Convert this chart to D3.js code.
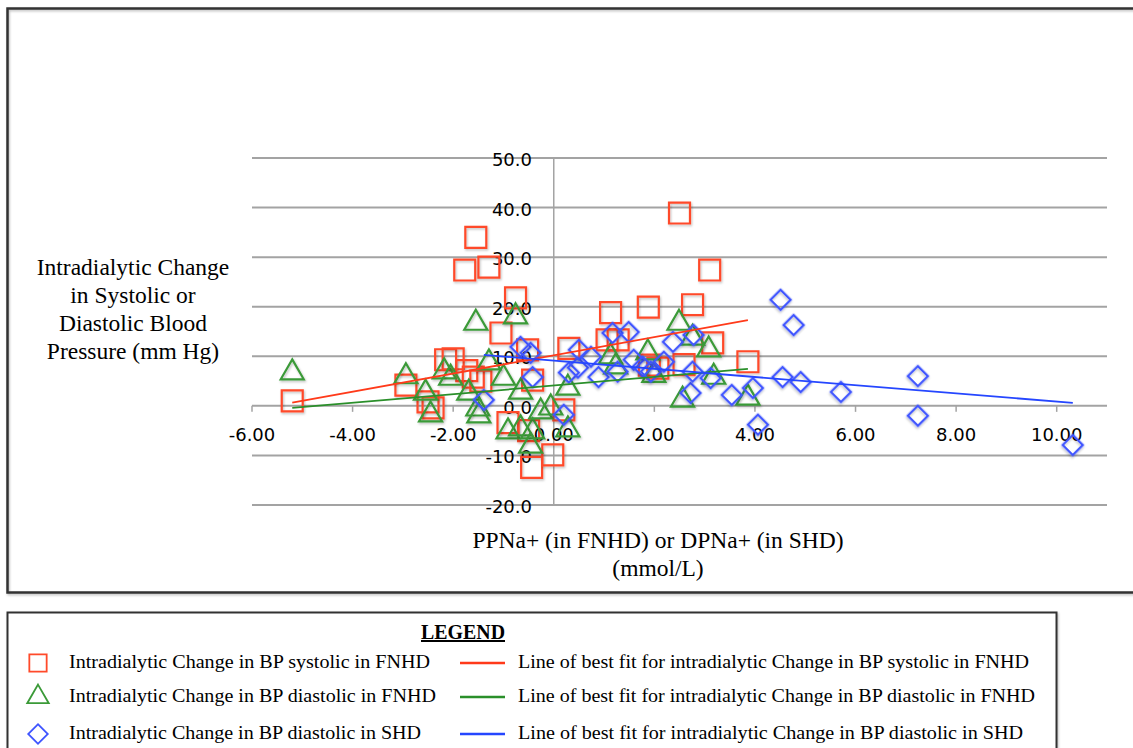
<!DOCTYPE html>
<html>
<head>
<meta charset="utf-8">
<script src="https://cdn.jsdelivr.net/npm/d3@7"></script>
<style>
  body { margin: 0; background: #fff; }
  svg { display: block; }
</style>
</head>
<body>
<div id="chart"></div>
<script>
// tick values
const xTicks = [-6, -4, -2, 0, 2, 4, 6, 8, 10];
const yTicks = [-20, -10, 0, 10, 20, 30, 40, 50];

// intradialytic change in BP systolic in FNHD (squares)
const sysFnX = [-5.2, -2.94, -2.5, -2.4, -2.15, -2.0, -1.73, -1.6, -1.45, -1.77, -1.55, -1.29,
  -0.76, -1.05, -0.52, -0.42, -0.91, -0.5, -0.44, -0.02, 0.2, 0.3, 1.13, 1.06, 1.28, 1.88,
  1.9, 2.07, 2.5, 3.1, 2.76, 3.16, 2.59, 3.86];
const sysFnY = [1.0, 4.2, 0.8, -0.4, 9.3, 9.5, 7.1, 5.8, 5.0, 27.4, 34.0, 28.0,
  21.8, 14.7, 11.3, 5.2, -3.4, -5.0, -12.4, -9.9, -0.8, 11.6, 18.8, 13.3, 13.3, 19.9,
  8.2, 7.6, 38.9, 27.4, 20.4, 12.7, 8.3, 8.9];

// intradialytic change in BP diastolic in FNHD (triangles)
const diaFnX = [-5.2, -2.94, -2.55, -2.45, -2.18, -2.05, -1.55, -0.76, -1.69, -1.51, -1.49,
  -1.29, -1.0, -0.66, -0.91, -0.66, -0.42, -0.46, -0.26, -0.06, 0.28, 0.28, 1.13, 1.23,
  1.87, 1.99, 2.49, 2.76, 3.08, 3.18, 2.56, 3.86];
const diaFnY = [6.7, 5.9, 2.6, -1.8, 6.9, 5.6, 16.7, 18.0, 2.6, -0.6, -2.0,
  8.7, 5.6, 2.8, -5.2, -4.6, -5.2, -8.1, -1.2, -0.4, 3.6, -4.8, 9.9, 7.9,
  10.7, 6.2, 16.7, 13.7, 11.3, 5.8, 1.2, 1.6];

// intradialytic change in BP diastolic in SHD (diamonds)
const diaShX = [-1.39, -0.66, -0.46, -0.42, 0.2, 0.3, 0.48, 0.5, 0.74, 0.89, 1.17, 1.27,
  1.49, 1.59, 1.77, 1.93, 2.19, 2.37, 2.72, 2.76, 2.78, 3.12, 3.54, 3.96, 4.06, 4.51,
  4.55, 4.77, 4.91, 5.71, 7.24, 7.24, 10.32];
const diaShY = [1.2, 11.9, 10.7, 5.8, -1.8, 6.7, 7.7, 11.3, 9.9, 5.8, 14.7, 6.9,
  14.9, 9.3, 7.9, 6.9, 8.9, 12.9, 2.6, 6.9, 14.3, 5.6, 2.2, 3.6, -3.8, 21.4,
  5.8, 16.3, 4.8, 2.8, 6.0, -2.0, -7.9];

// lines of best fit, [intercept, slope]
const fitSysFn = [10.2, 1.84];
const fitDiaFn = [4.1, 0.87];
const fitDiaSh = [9.13, -0.827];

const legendMarkers = [
  'Intradialytic Change in BP systolic in FNHD',
  'Intradialytic Change in BP diastolic in FNHD',
  'Intradialytic Change in BP diastolic in SHD'
];
const legendLines = [
  'Line of best fit for intradialytic Change in BP systolic in FNHD',
  'Line of best fit for intradialytic Change in BP diastolic in FNHD',
  'Line of best fit for intradialytic Change in BP diastolic in SHD'
];

const W = 1133, H = 748;
const red = '#ff4a2a', green = '#3b9a38', blue = '#3f55ff';
const redLine = '#ff3a1a', greenLine = '#2a8f2a', blueLine = '#2546ff';

const svg = d3.select('#chart').append('svg')
  .attr('width', W)
  .attr('height', H)
  .style('font-family', '"DejaVu Sans", Verdana, sans-serif');

const defs = svg.append('defs');
defs.append('filter').attr('id', 'shadow')
  .attr('x', '-30%').attr('y', '-30%').attr('width', '160%').attr('height', '160%')
  .append('feDropShadow')
  .attr('dx', 1).attr('dy', 1.5).attr('stdDeviation', 1)
  .attr('flood-color', '#000').attr('flood-opacity', 0.25);

// outer chart frame
svg.append('rect')
  .attr('x', 7.5).attr('y', 8.5)
  .attr('width', W + 10).attr('height', 584)
  .attr('fill', 'none').attr('stroke', '#333').attr('stroke-width', 2.5)
  .attr('filter', 'url(#shadow)');

const x = d3.scaleLinear().domain([-6, 11]).range([252, 1107]);
const y = d3.scaleLinear().domain([-20, 50]).range([505, 158]);

// horizontal gridlines
svg.append('g').selectAll('line')
  .data(yTicks)
  .enter().append('line')
  .attr('x1', x(-6)).attr('x2', x(11))
  .attr('y1', d => y(d)).attr('y2', d => y(d))
  .attr('stroke', '#a3a3a3').attr('stroke-width', 2);

// vertical axis
svg.append('line')
  .attr('x1', x(0)).attr('x2', x(0))
  .attr('y1', y(50)).attr('y2', y(-20))
  .attr('stroke', '#a3a3a3').attr('stroke-width', 1.5);

// x ticks on the zero line
svg.append('g').selectAll('line')
  .data(xTicks)
  .enter().append('line')
  .attr('x1', d => x(d)).attr('x2', d => x(d))
  .attr('y1', y(0)).attr('y2', y(0) + 6)
  .attr('stroke', '#a3a3a3').attr('stroke-width', 1.5);

const fmtY = d => d3.format('.1f')(d).replace('\u2212', '-');
const fmtX = d => d3.format('.2f')(d).replace('\u2212', '-');

// y tick labels
svg.append('g').selectAll('text')
  .data(yTicks)
  .enter().append('text')
  .attr('x', 532)
  .attr('y', d => y(d) + 3)
  .attr('text-anchor', 'end')
  .attr('dominant-baseline', 'middle')
  .attr('font-size', 18)
  .attr('fill', '#000')
  .text(fmtY);

// x tick labels
svg.append('g').selectAll('text')
  .data(xTicks)
  .enter().append('text')
  .attr('x', d => x(d))
  .attr('y', 436)
  .attr('text-anchor', 'middle')
  .attr('dominant-baseline', 'middle')
  .attr('font-size', 18)
  .attr('fill', '#000')
  .text(fmtX);

// markers
const sq = d3.symbol().type(d3.symbolSquare).size(440);
const tri = d3.symbol().type(d3.symbolTriangle).size(230);
const dia = d3.symbol().type(d3.symbolSquare).size(205);

function drawSeries(xs, ys, path, color, rot) {
  svg.append('g').selectAll('path')
    .data(xs.map((v, i) => [v, ys[i]]))
    .enter().append('path')
    .attr('d', path())
    .attr('transform', d => 'translate(' + x(d[0]) + ',' + y(d[1]) + ') rotate(' + rot + ')')
    .attr('fill', 'none')
    .attr('stroke', color)
    .attr('stroke-width', 2.2)
    .attr('filter', 'url(#shadow)');
}
drawSeries(sysFnX, sysFnY, sq, red, 0);
drawSeries(diaFnX, diaFnY, tri, green, 0);
drawSeries(diaShX, diaShY, dia, blue, 45);

// lines of best fit over the x range of each series
function drawFit(xs, fit, color) {
  const ext = d3.extent(xs);
  svg.append('line')
    .attr('x1', x(ext[0])).attr('y1', y(fit[0] + fit[1] * ext[0]))
    .attr('x2', x(ext[1])).attr('y2', y(fit[0] + fit[1] * ext[1]))
    .attr('stroke', color).attr('stroke-width', 1.8);
}
drawFit(sysFnX, fitSysFn, redLine);
drawFit(diaFnX, fitDiaFn, greenLine);
drawFit(diaShX, fitDiaSh, blueLine);

// axis titles
const serif = '"Liberation Serif", "Times New Roman", serif';
const yTitle = ['Intradialytic Change', 'in Systolic or', 'Diastolic Blood', 'Pressure (mm Hg)'];
svg.append('g').selectAll('text')
  .data(yTitle)
  .enter().append('text')
  .attr('x', 133)
  .attr('y', (d, i) => 275 + i * 28)
  .attr('text-anchor', 'middle')
  .attr('font-family', serif)
  .attr('font-size', 23.5)
  .text(d => d);

const xTitle = ['PPNa+ (in FNHD) or DPNa+ (in SHD)', '(mmol/L)'];
svg.append('g').selectAll('text')
  .data(xTitle)
  .enter().append('text')
  .attr('x', 658)
  .attr('y', (d, i) => 548 + i * 28)
  .attr('text-anchor', 'middle')
  .attr('font-family', serif)
  .attr('font-size', 23.5)
  .text(d => d);

// legend box
svg.append('rect')
  .attr('x', 7.5).attr('y', 612.5)
  .attr('width', 1049).attr('height', 160)
  .attr('fill', '#fff').attr('stroke', '#333').attr('stroke-width', 2)
  .attr('filter', 'url(#shadow)');

svg.append('text')
  .attr('x', 463).attr('y', 639)
  .attr('text-anchor', 'middle')
  .attr('font-family', serif)
  .attr('font-weight', 'bold')
  .attr('font-size', 20)
  .attr('textLength', 84)
  .attr('lengthAdjust', 'spacingAndGlyphs')
  .attr('text-decoration', 'underline')
  .text('LEGEND');

const rowY = [662, 696, 733];
const legSymbols = [
  { p: d3.symbol().type(d3.symbolSquare).size(300)(), c: red, r: 0 },
  { p: d3.symbol().type(d3.symbolTriangle).size(200)(), c: green, r: 0 },
  { p: d3.symbol().type(d3.symbolSquare).size(190)(), c: blue, r: 45 }
];
const lineColors = [redLine, greenLine, blueLine];

legendMarkers.forEach((t, i) => {
  svg.append('path')
    .attr('d', legSymbols[i].p)
    .attr('transform', 'translate(38,' + (rowY[i] + 1) + ') rotate(' + legSymbols[i].r + ')')
    .attr('fill', 'none')
    .attr('stroke', legSymbols[i].c)
    .attr('stroke-width', 1.8);
  svg.append('text')
    .attr('x', 69).attr('y', rowY[i] + 6)
    .attr('font-family', serif)
    .attr('font-size', 18)
    .attr('textLength', [361, 367, 352][i])
    .attr('lengthAdjust', 'spacingAndGlyphs')
    .text(t);
});
legendLines.forEach((t, i) => {
  svg.append('line')
    .attr('x1', 460).attr('x2', 505)
    .attr('y1', rowY[i] + 1).attr('y2', rowY[i] + 1)
    .attr('stroke', lineColors[i]).attr('stroke-width', 2.5);
  svg.append('text')
    .attr('x', 518).attr('y', rowY[i] + 6)
    .attr('font-family', serif)
    .attr('font-size', 18)
    .attr('textLength', [511, 517, 505][i])
    .attr('lengthAdjust', 'spacingAndGlyphs')
    .text(t);
});
</script>
</body>
</html>
